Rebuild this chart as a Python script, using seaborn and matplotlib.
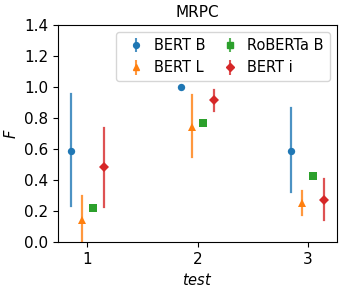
import numpy as np
import pandas as pd
import matplotlib
matplotlib.use("Agg")
import matplotlib.pyplot as plt
import seaborn as sns

tests = ["1", "2", "3"]
models = ["BERT B", "BERT L", "RoBERTa B", "BERT i"]
mean_bert_b = [0.59, 1.00, 0.59]
low_bert_b = [0.235, 1.00, 0.325]
high_bert_b = [0.953, 1.00, 0.862]
mean_bert_l = [0.14, 0.74, 0.25]
low_bert_l = [0.0, 0.55, 0.176]
high_bert_l = [0.295, 0.948, 0.329]
mean_roberta_b = [0.217, 0.766, 0.426]
low_roberta_b = [0.217, 0.766, 0.426]
high_roberta_b = [0.217, 0.766, 0.426]
mean_bert_i = [0.482, 0.916, 0.269]
low_bert_i = [0.228, 0.847, 0.144]
high_bert_i = [0.737, 0.980, 0.405]

series = {
    "BERT B": (mean_bert_b, low_bert_b, high_bert_b),
    "BERT L": (mean_bert_l, low_bert_l, high_bert_l),
    "RoBERTa B": (mean_roberta_b, low_roberta_b, high_roberta_b),
    "BERT i": (mean_bert_i, low_bert_i, high_bert_i),
}
rows = []
for m, (mu, lo, hi) in series.items():
    for t, a, b, c in zip(tests, mu, lo, hi):
        for v in (a, b, c):
            rows.append({"test": t, "model": m, "F": v})
df = pd.DataFrame(rows)

markers = ["o", "^", "s", "D"]
colors = sns.color_palette("tab10", 4)

fig = plt.figure(figsize=(3.44, 2.91), dpi=100)
ax = fig.add_axes([0.169, 0.168, 0.811, 0.746])
sns.pointplot(data=df, x="test", y="F", hue="model", hue_order=models,
              order=tests, estimator="median",
              errorbar=lambda x: (x.min(), x.max()),
              dodge=0.3, linestyle="none", markers=markers,
              palette=colors, markersize=5.3, markeredgewidth=0,
              err_kws={"linewidth": 1.6, "alpha": 0.8},
              legend=False, ax=ax)
ax.set_xlim(-0.265, 2.265)
ax.set_ylim(0, 1.4)
ax.set_yticks(np.arange(0, 1.41, 0.2))
ax.tick_params(labelsize=11)
ax.set_xlabel("$test$", fontsize=10.5)
ax.set_ylabel("$F$", fontsize=10.5)
ax.set_title("MRPC", fontsize=11)

handles = []
for m, mk, c in zip(models, markers, colors):
    h = ax.errorbar([np.nan], [np.nan], yerr=[[0.1]], fmt=mk, color=c,
                    markersize=4.2, elinewidth=1.5, label=m)
    h[2][0].set_alpha(0.8)
    handles.append(h)
ax.legend(handles=handles, labels=models, loc="upper right", ncol=2,
          fontsize=10.5, handletextpad=0.2, columnspacing=0.7)
fig.savefig("out.png", dpi=100)
